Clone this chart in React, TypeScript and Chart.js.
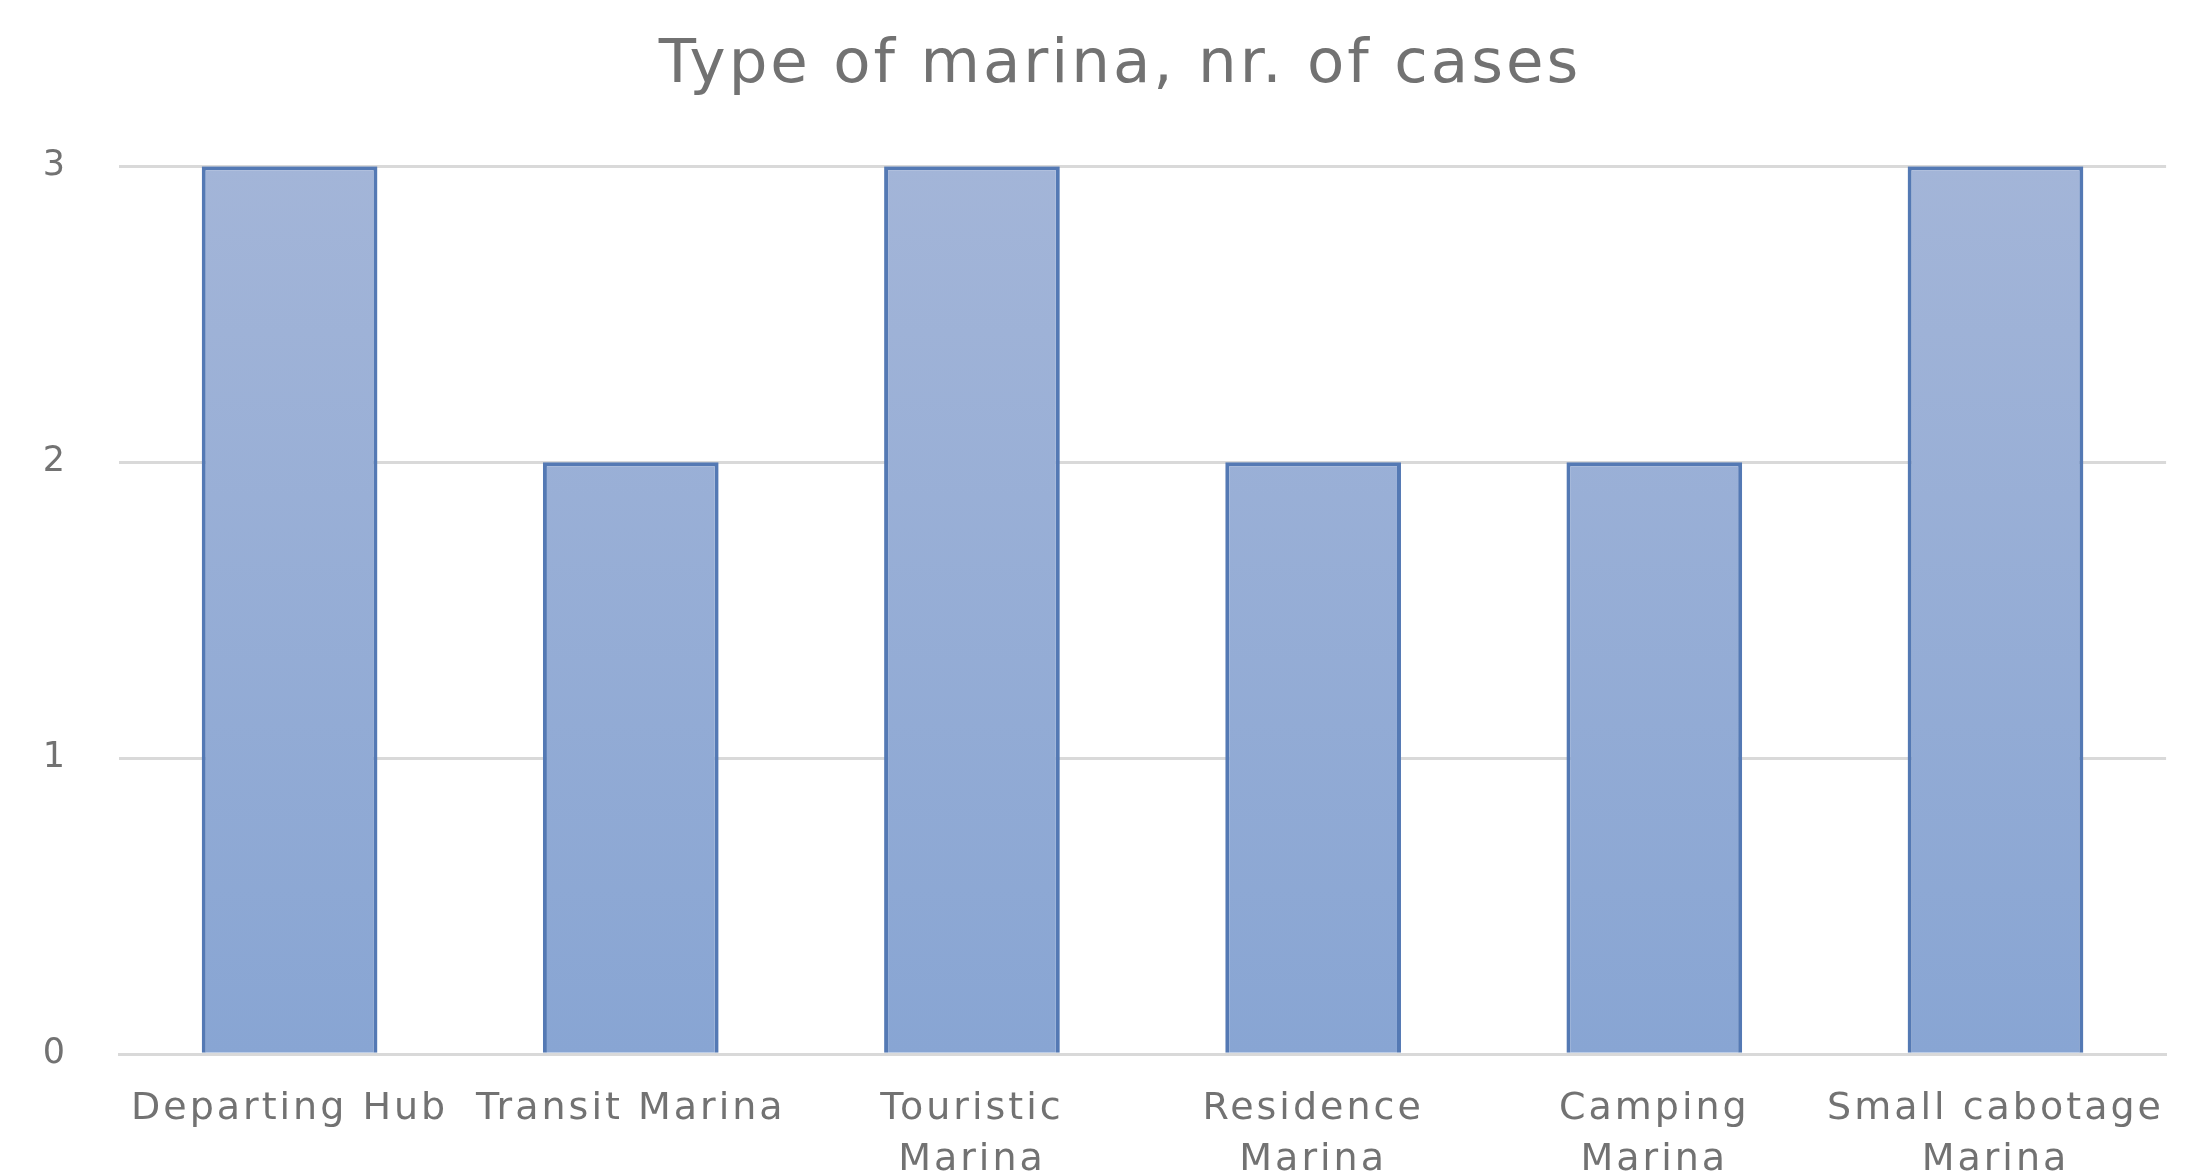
import React, { useEffect, useRef } from "react";
import { Chart, registerables } from "chart.js";

Chart.register(...registerables);

const titleText = "Type of marina, nr. of cases";
const categories: (string | string[])[] = [
  "Departing Hub",
  "Transit Marina",
  ["Touristic", "Marina"],
  ["Residence", "Marina"],
  ["Camping", "Marina"],
  ["Small cabotage", "Marina"],
];
const caseCounts = [3, 2, 3, 2, 2, 3];
const yMin = 0;
const yMax = 3;
const yStep = 1;

const FONT = "'DejaVu Sans', 'Open Sans', sans-serif";
const TEXT = "#727272";
const SPACING = "3px";

const letterSpacingPlugin = {
  id: "letterSpacing",
  beforeLayout(chart: any) {
    chart.ctx.letterSpacing = SPACING;
  },
  afterLayout(chart: any) {
    const t = chart.titleBlock;
    if (t) {
      t.left = 69;
      t.width = t.right - t.left;
    }
  },
  beforeDraw(chart: any) {
    chart.ctx.letterSpacing = SPACING;
  },
};

export default function App() {
  const ref = useRef<HTMLCanvasElement | null>(null);

  useEffect(() => {
    const canvas = ref.current;
    if (!canvas) return;
    const chart = new Chart(canvas, {
      type: "bar",
      data: {
        labels: categories,
        datasets: [
          {
            label: "Cases",
            data: caseCounts,
            backgroundColor: (ctx: any) => {
              const area = ctx.chart.chartArea;
              if (!area) return "#97aed6";
              const g = ctx.chart.ctx.createLinearGradient(0, area.top, 0, area.bottom);
              g.addColorStop(0, "#a3b5d8");
              g.addColorStop(1, "#88a5d3");
              return g;
            },
            borderColor: "#5479b4",
            borderWidth: { top: 4, left: 4, right: 4, bottom: 0 },
            borderSkipped: "start",
            barPercentage: 0.515,
            categoryPercentage: 1,
          },
        ],
      },
      plugins: [letterSpacingPlugin],
      options: {
        responsive: false,
        animation: false,
        layout: { padding: { left: 0, right: 25, top: 0, bottom: 4 } },
        plugins: {
          legend: { display: false },
          tooltip: { enabled: false },
          title: {
            display: true,
            text: titleText,
            color: TEXT,
            font: { family: FONT, size: 61, weight: "normal", lineHeight: 1.2 },
            padding: { top: 30, bottom: 63 },
          },
        },
        scales: {
          x: {
            grid: { display: false, drawTicks: false },
            border: { display: true, color: "#d9d9d9", width: 3 },
            ticks: {
              color: TEXT,
              font: { family: FONT, size: 38, lineHeight: 1.34 },
              padding: 30,
              maxRotation: 0,
              autoSkip: false,
            },
          },
          y: {
            min: yMin,
            max: yMax,
            grid: { color: "#d9d9d9", lineWidth: 3, drawTicks: false },
            border: { display: false },
            afterFit: (scale: any) => {
              scale.width = 119;
            },
            ticks: {
              stepSize: yStep,
              color: TEXT,
              font: { family: FONT, size: 35 },
              padding: 51,
            },
          },
        },
      },
    });
    return () => chart.destroy();
  }, []);

  return (
    <div
      style={{
        position: "fixed",
        left: 0,
        top: 0,
        width: 2196,
        height: 1173,
        overflow: "hidden",
        background: "#ffffff",
      }}
    >
      <canvas ref={ref} width={2196} height={1220} style={{ display: "block" }} />
    </div>
  );
}
